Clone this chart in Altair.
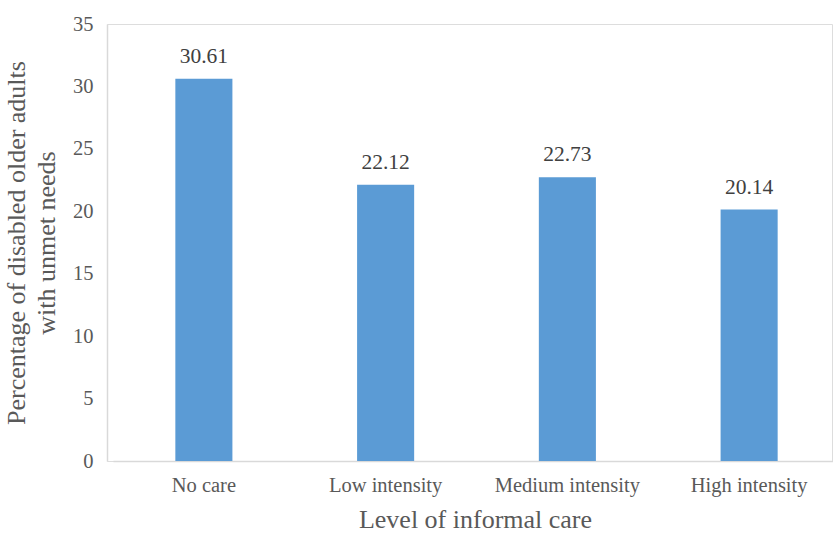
import altair as alt
import pandas as pd

categories = ["No care", "Low intensity", "Medium intensity", "High intensity"]
values = [30.61, 22.12, 22.73, 20.14]

df = pd.DataFrame({"care": categories, "pct": values})

FONT = "Liberation Serif"

base = alt.Chart(df).encode(
    x=alt.X("care:N", sort=categories,
            scale=alt.Scale(paddingInner=0.686, paddingOuter=0.343, range=[6, 733]),
            axis=alt.Axis(title="Level of informal care", labelAngle=0,
                          labelFontSize=20.5, labelColor="#595959",
                          titleFontSize=26, titleColor="#595959", titleFontWeight="normal",
                          labelPadding=14, titlePadding=11,
                          domainColor="#d9d9d9", domainWidth=1.5, ticks=False,
                          labelFont=FONT, titleFont=FONT, titleX=368)),
    y=alt.Y("pct:Q",
            scale=alt.Scale(domain=[0, 35], nice=False),
            axis=alt.Axis(title=["Percentage of disabled older adults", "with unmet needs"],
                          values=[0, 5, 10, 15, 20, 25, 30, 35],
                          labelFontSize=20.5, labelColor="#595959",
                          titleFontSize=26, titleColor="#595959", titleFontWeight="normal",
                          labelPadding=14, titlePadding=13,
                          domainColor="#d9d9d9", domainWidth=1.5, ticks=False, grid=False,
                          labelFont=FONT, titleFont=FONT, titleLineHeight=30)),
)

bars = base.mark_bar(color="#5B9BD5")
text = base.mark_text(dy=-22, fontSize=21.5, font=FONT, color="#404040").encode(
    text=alt.Text("pct:Q", format=".2f"))

chart = (bars + text).properties(
    width=725, height=437,
    padding={"left": 107, "top": 24, "right": 1, "bottom": 77},
    autosize=alt.AutoSizeParams(type="none"),
).configure_view(stroke=None).configure(background="white")

chart.save("out.html", embed_options={"renderer": "svg", "actions": False})
